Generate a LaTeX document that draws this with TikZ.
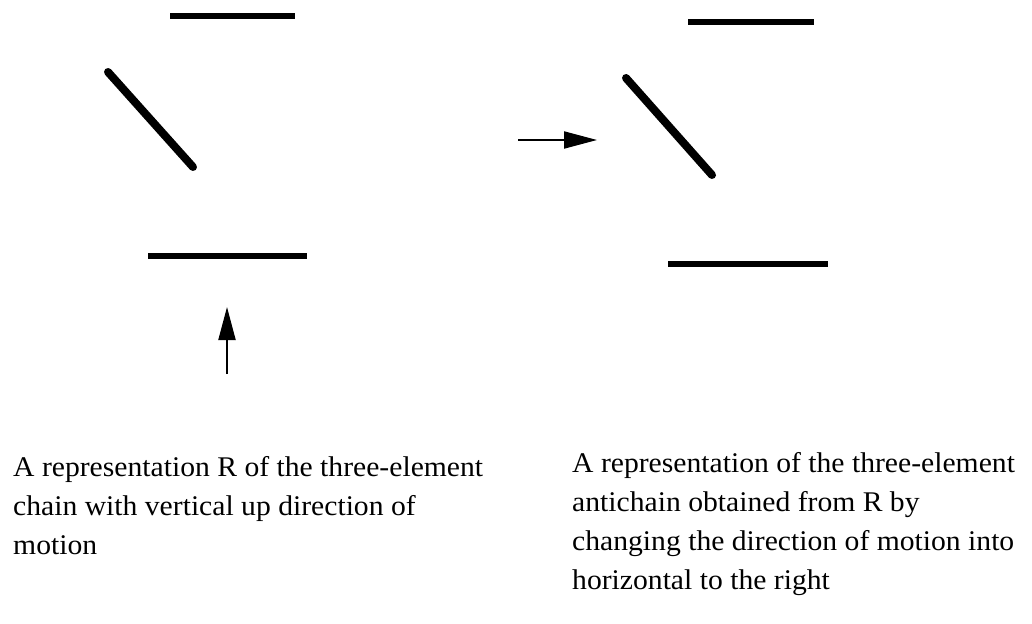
\documentclass[tikz,border=0pt]{standalone}
\usepackage{fontspec}
\setmainfont{Liberation Serif}[FakeStretch=1.04]
\usetikzlibrary{arrows.meta}
\begin{document}
\begin{tikzpicture}[x=1pt,y=-1pt,
  bar/.style={line width=6.5pt,line cap=butt},
  diag/.style={line width=8pt,line cap=round},
  motion/.style={line width=2pt,-{Triangle[length=33pt,width=17pt]}},
  caption/.style={anchor=base west,inner sep=0pt,align=left,
    font=\fontsize{28.5}{39}\selectfont}]
\useasboundingbox (0,0) rectangle (1032,623);
% left picture
\coordinate (lt1) at (170,16); \coordinate (lt2) at (295,16);
\coordinate (ld1) at (108,72); \coordinate (ld2) at (193,167);
\coordinate (lb1) at (148,256); \coordinate (lb2) at (307,256);
\coordinate (la1) at (227,374); \coordinate (la2) at (227,307);
\draw[bar] (lt1) -- (lt2);
\draw[diag] (ld1) -- (ld2);
\draw[bar] (lb1) -- (lb2);
\draw[motion] (la1) -- (la2);
% right picture
\coordinate (rt1) at (688,22); \coordinate (rt2) at (814,22);
\coordinate (rd1) at (626,78); \coordinate (rd2) at (712,175);
\coordinate (rb1) at (668,264); \coordinate (rb2) at (828,264);
\coordinate (ra1) at (518,140); \coordinate (ra2) at (597,140);
\draw[bar] (rt1) -- (rt2);
\draw[diag] (rd1) -- (rd2);
\draw[bar] (rb1) -- (rb2);
\draw[motion] (ra1) -- (ra2);
% captions (base anchor = baseline of last line)
\node[caption] (capL) at (13,554) {A representation R of the three-element\\chain with vertical up direction of\\motion};
\node[caption] (capR) at (572,589) {A representation of the three-element\\antichain obtained from R by\\changing the direction of motion into\\horizontal to the right};
\end{tikzpicture}
\end{document}
